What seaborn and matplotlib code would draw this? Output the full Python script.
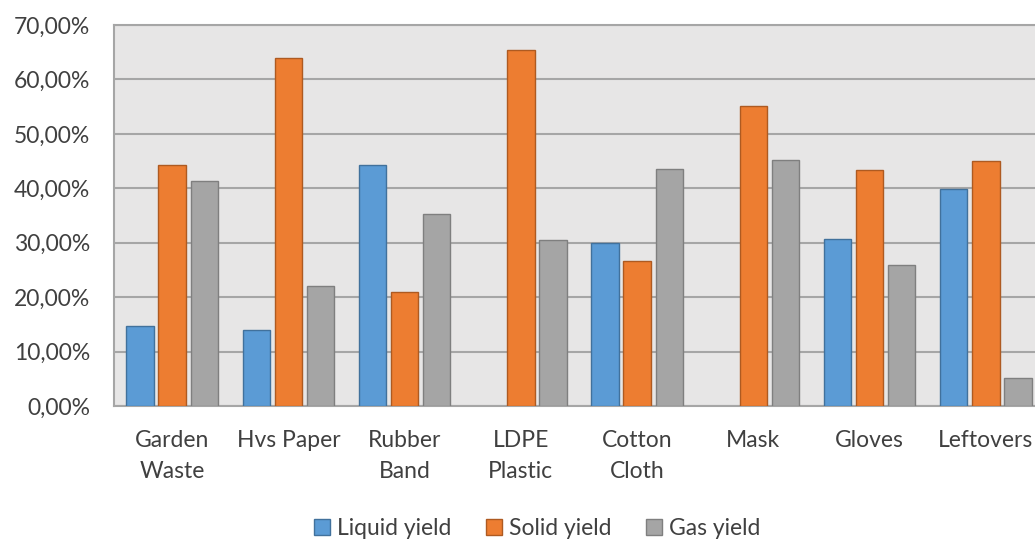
import pandas as pd
import numpy as np
import matplotlib.pyplot as plt
import seaborn as sns
from matplotlib.ticker import FuncFormatter, MultipleLocator
from matplotlib.patches import Patch

categories = ['Garden\nWaste', 'Hvs Paper', 'Rubber\nBand', 'LDPE\nPlastic',
              'Cotton\nCloth', 'Mask', 'Gloves', 'Leftovers']
liquid = [14.7, 14.0, 44.3, 0.0, 30.0, 0.0, 30.7, 39.9]
solid = [44.3, 64.0, 21.0, 65.4, 26.7, 55.1, 43.4, 45.0]
gas = [41.4, 22.1, 35.3, 30.5, 43.6, 45.2, 25.9, 5.1]
series = ['Liquid yield', 'Solid yield', 'Gas yield']

df = pd.DataFrame({'cat': categories * 3,
                   'yield': liquid + solid + gas,
                   'type': np.repeat(series, len(categories))})

colors = ['#5B9BD5', '#ED7D31', '#A5A5A5']
edges = ['#41719C', '#AE5A21', '#7F7F7F']
txt = '#404040'

sns.set_style('white')
plt.rcParams['font.family'] = ['Lato', 'DejaVu Sans']

fig = plt.figure(figsize=(10.35, 5.42), dpi=100)
ax = fig.add_axes([114/1035, 136/542, 930/1035, 381/542])

sns.barplot(data=df, x='cat', y='yield', hue='type', palette=colors, saturation=1,
            width=0.83, gap=0.15, legend=False, ax=ax, zorder=3)

# darker outline per series, none on empty bars
n = len(categories)
for i, bar in enumerate(ax.patches[:3 * n]):
    bar.set_edgecolor(edges[i // n])
    bar.set_linewidth(1.0 if bar.get_height() > 0 else 0)

ax.set_facecolor('#E7E6E6')
ax.set_ylim(0, 70)
ax.set_xlim(-0.5, n - 0.5)
ax.yaxis.set_major_locator(MultipleLocator(10))
ax.yaxis.set_major_formatter(FuncFormatter(lambda v, p: f'{v:.2f}%'.replace('.', ',')))
ax.grid(axis='y', color='#A6A6A6', linewidth=1.5, zorder=0)
ax.set_axisbelow(True)
for s in ax.spines.values():
    s.set_color('#A6A6A6')
    s.set_linewidth(1.5)
ax.tick_params(axis='y', length=0, pad=17, labelsize=16.5, labelcolor=txt)
ax.tick_params(axis='x', length=0, pad=17, labelsize=16.5, labelcolor=txt)
for lab in ax.get_xticklabels():
    lab.set_linespacing(1.6)
ax.set_xlabel('')
ax.set_ylabel('')

handles = [Patch(facecolor=c, edgecolor=e, label=s) for c, e, s in zip(colors, edges, series)]
fig.legend(handles=handles, loc='center', bbox_to_anchor=(0.519, 0.024), ncol=3,
           frameon=False, fontsize=16.5, handlelength=0.7, handleheight=0.7,
           handletextpad=0.3, columnspacing=1.5, labelcolor=txt)

plt.savefig('out.png', dpi=100)
